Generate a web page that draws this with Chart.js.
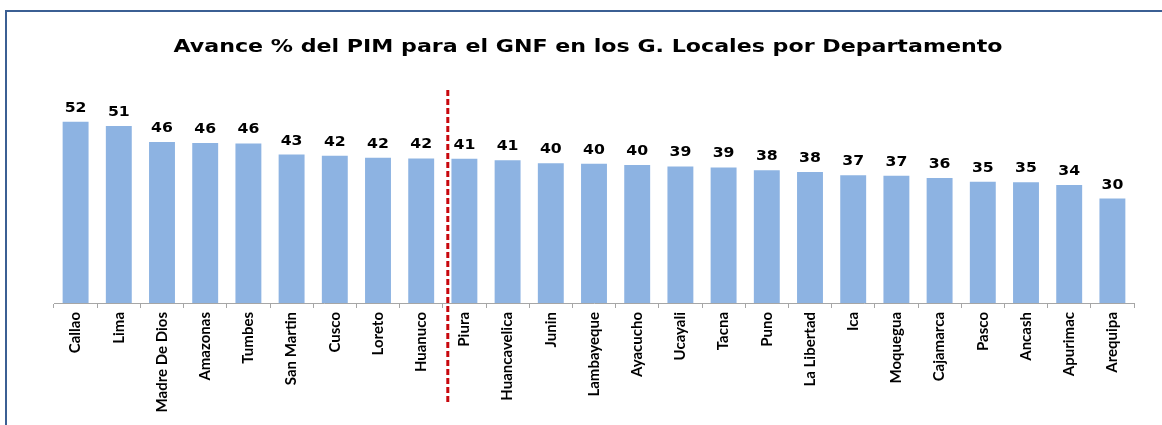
<!DOCTYPE html>
<html>
<head>
<meta charset="utf-8">
<script src="https://cdn.jsdelivr.net/npm/chart.js@4.4.1/dist/chart.umd.min.js"></script>
<style>
  html, body { margin: 0; padding: 0; background: #fff; overflow: hidden; }
  #wrap { position: relative; width: 1162px; height: 425px; }
  #frame {
    position: absolute; left: 5px; top: 10px; width: 1200px; height: 500px;
    border-left: 2px solid #3b5f93; border-top: 2px solid #3b5f93;
  }
  canvas { position: absolute; left: 0; top: 0; }
</style>
</head>
<body>
<div id="wrap">
  <div id="frame"></div>
  <canvas id="avanceChart" width="1162" height="425"></canvas>
</div>
<script>
// departamentos, ordenados por avance
const departamentos = [
  "Callao", "Lima", "Madre De Dios", "Amazonas", "Tumbes", "San Martin", "Cusco",
  "Loreto", "Huanuco", "Piura", "Huancavelica", "Junin", "Lambayeque", "Ayacucho",
  "Ucayali", "Tacna", "Puno", "La Libertad", "Ica", "Moquegua", "Cajamarca",
  "Pasco", "Ancash", "Apurimac", "Arequipa"
];
// avance % del PIM
const avance = [
  52.0, 50.8, 46.2, 45.9, 45.8, 42.6, 42.3, 41.7, 41.5, 41.4, 41.0, 40.1, 40.0,
  39.6, 39.2, 38.9, 38.1, 37.6, 36.7, 36.5, 35.9, 34.8, 34.7, 33.9, 30.0
];
// la linea punteada va entre estos dos
const corteEntre = ["Huanuco", "Piura"];

const titulo = "Avance % del PIM para el GNF en los G. Locales por Departamento";

// el original esta algo estirado en horizontal
const estiroTexto = 1.23;

// titulo dibujado a mano para poder estirarlo
const tituloPlugin = {
  id: "tituloPlugin",
  afterDraw(chart) {
    const ctx = chart.ctx;
    ctx.save();
    ctx.font = "bold 18px 'DejaVu Sans'";
    ctx.fillStyle = "#000";
    ctx.textAlign = "center";
    ctx.textBaseline = "middle";
    ctx.translate(588, 47);
    ctx.scale(estiroTexto, 1);
    ctx.fillText(titulo, 0, 0);
    ctx.restore();
  }
};

// etiquetas de valor sobre cada barra
const valueLabels = {
  id: "valueLabels",
  afterDatasetsDraw(chart) {
    const ctx = chart.ctx;
    const meta = chart.getDatasetMeta(0);
    meta.data.forEach((bar, i) => {
      ctx.save();
      ctx.font = "bold 14px 'DejaVu Sans'";
      ctx.fillStyle = "#000";
      ctx.textAlign = "center";
      ctx.textBaseline = "alphabetic";
      ctx.translate(bar.x, bar.y - 10);
      ctx.scale(1.12, 1);
      ctx.fillText(Math.round(avance[i]), 0, 0);
      ctx.restore();
    });
  }
};

// linea roja punteada de corte
const lineaCorte = {
  id: "lineaCorte",
  afterDatasetsDraw(chart) {
    const x = chart.scales.x;
    const a = x.getPixelForValue(departamentos.indexOf(corteEntre[0]));
    const b = x.getPixelForValue(departamentos.indexOf(corteEntre[1]));
    const px = (a + b) / 2 + 5;
    const ctx = chart.ctx;
    ctx.save();
    ctx.strokeStyle = "#c8070d";
    ctx.lineWidth = 3;
    ctx.setLineDash([6, 3]);
    ctx.beginPath();
    ctx.moveTo(px, chart.chartArea.top - 4);
    ctx.lineTo(px, 405);
    ctx.stroke();
    ctx.restore();
  }
};

new Chart(document.getElementById("avanceChart").getContext("2d"), {
  type: "bar",
  data: {
    labels: departamentos,
    datasets: [{
      data: avance,
      backgroundColor: "#8db3e2",
      barPercentage: 0.6,
      categoryPercentage: 1
    }]
  },
  options: {
    responsive: false,
    animation: false,
    layout: { padding: { left: 54, right: 28, top: 94, bottom: 0 } },
    plugins: {
      legend: { display: false },
      tooltip: { enabled: false },
      title: { display: false }
    },
    scales: {
      y: {
        display: false,
        min: 0,
        max: 60
      },
      x: {
        afterFit(scale) { scale.height = 122; },
        grid: {
          offset: true,
          drawOnChartArea: false,
          drawTicks: true,
          tickLength: 5,
          color: "#a6a6a6"
        },
        border: { display: true, color: "#a6a6a6", width: 1 },
        ticks: {
          autoSkip: false,
          minRotation: 90,
          maxRotation: 90,
          padding: 4,
          color: "#000",
          font: { family: "Lato, 'DejaVu Sans Condensed', sans-serif", size: 15, weight: "bold" }
        }
      }
    }
  },
  plugins: [valueLabels, lineaCorte, tituloPlugin]
});
</script>
</body>
</html>
